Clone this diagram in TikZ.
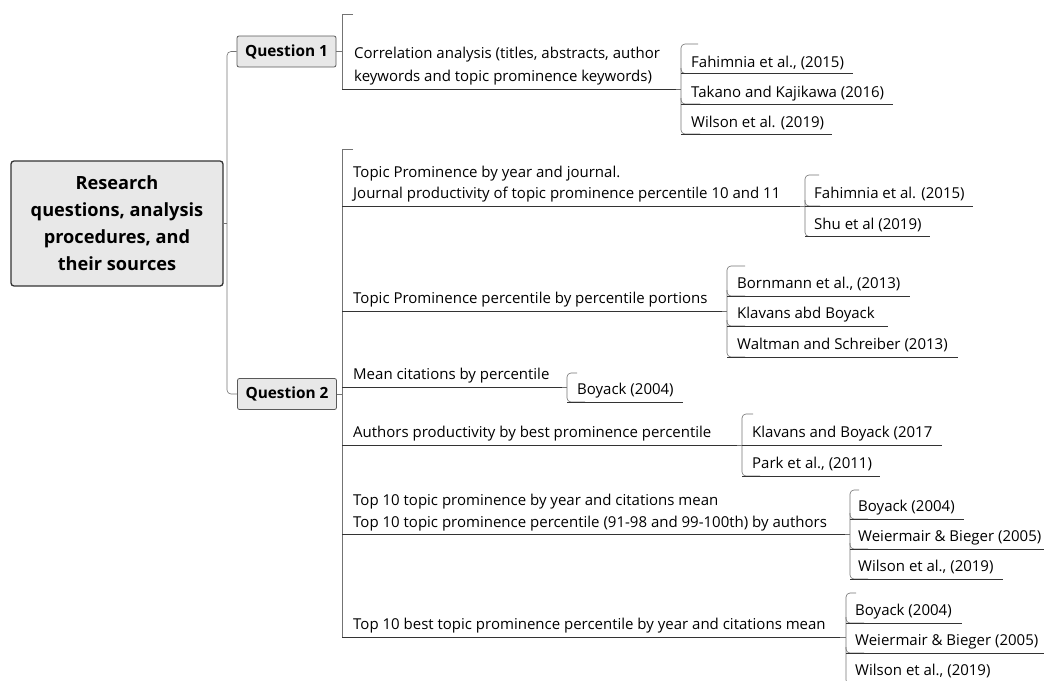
\documentclass[tikz,border=0pt]{standalone}
\usepackage{fontspec}
\setmainfont{Open Sans}
\begin{document}
\begin{tikzpicture}[x=1pt,y=-1pt,
  txt/.style={anchor=base west, inner sep=0pt, font=\fontsize{15}{17}\selectfont, text=black},
  ul/.style={draw=black!80, line width=1pt},
  br/.style={draw=black!55, line width=0.6pt, rounded corners=4pt},
  sq/.style={draw=black!55, line width=0.6pt},
  qbox/.style={draw=black!65, fill=black!9, rounded corners=2pt, line width=0.8pt,
    font=\bfseries\fontsize{15.4}{17}\selectfont, minimum width=99pt, minimum height=31pt, inner sep=0pt},
  rootbox/.style={draw=black!80, fill=black!9, rounded corners=3pt, line width=1.3pt,
    font=\bfseries\fontsize{18.2}{27}\selectfont, align=center, minimum width=212pt, minimum height=125pt, inner sep=0pt}]
\useasboundingbox (0,0) rectangle (1044,680);

% root and questions
\node[rootbox] (root) at (117,223.5) {Research\\questions, analysis\\procedures, and\\their sources};
\node[qbox] (q1) at (286.5,51.5) {Question 1};
\node[qbox] (q2) at (287,394) {Question 2};
\coordinate (rj) at (227,223.5);
\draw[sq] (root.east) -- (rj);
\draw[br] (q1.west) -- (227,51.5) -- (227,394) -- (q2.west);

% Question 1 branch
\draw[sq] (q1.east) -- (342,51.5);
\draw[sq] (353,14) -- (342,14) -- (342,89);
\draw[ul] (342,89) -- (676,89);
\node[txt] (c1a) at (354,58) {Correlation analysis (titles, abstracts, author};
\node[txt] (c1b) at (354,81) {keywords and topic prominence keywords)};

% sources of Q1
\draw[br] (698,44) -- (681,44) -- (681,134) -- (700,134);
\draw[br] (681,68) |- (700,73.5);
\draw[br] (681,98) |- (700,104);
\draw[sq] (676,89) -- (681,89);
\draw[ul] (681,73.5) -- (853,73.5);
\draw[ul] (681,104) -- (893,104);
\draw[ul] (681,134) -- (832,134);
\node[txt] (s11) at (691,67) {Fahimnia et al., (2015)};
\node[txt] (s12) at (691,97) {Takano and Kajikawa (2016)};
\node[txt] (s13) at (691,127) {Wilson et al. (2019)};

% Question 2 branch
\draw[sq] (q2.east) -- (342,394);
\draw[sq] (353,149) -- (342,149) -- (342,637);

% child 1
\node[txt] (a1a) at (353,177) {Topic Prominence by year and journal.};
\node[txt] (a1b) at (353,198) {Journal productivity of topic prominence percentile 10 and 11};
\draw[ul] (342,206) -- (800,206);
\draw[br] (819,175) -- (805,175) -- (805,236.5) -- (820,236.5);
\draw[br] (805,200) |- (820,206);
\draw[sq] (800,206) -- (805,206);
\draw[ul] (805,206) -- (973,206);
\draw[ul] (805,236.5) -- (930,236.5);
\node[txt] (b11) at (814,198.5) {Fahimnia et al. (2015)};
\node[txt] (b12) at (814,229) {Shu et al (2019)};

% child 2
\node[txt] (a2) at (353,303.5) {Topic Prominence percentile by percentile portions};
\draw[ul] (342,311) -- (722,311);
\draw[br] (745,266) -- (727,266) -- (727,357) -- (745,357);
\draw[br] (727,290) |- (745,296);
\draw[br] (727,320) |- (745,326);
\draw[sq] (722,311) -- (727,311);
\draw[ul] (727,296) -- (910,296);
\draw[ul] (727,326) -- (888,326);
\draw[ul] (727,357) -- (958,357);
\node[txt] (b21) at (737,288.5) {Bornmann et al., (2013)};
\node[txt] (b22) at (737,318.5) {Klavans abd Boyack};
\node[txt] (b23) at (737,349.5) {Waltman and Schreiber (2013)};

% child 3
\node[txt] (a3) at (353,379.5) {Mean citations by percentile};
\draw[ul] (342,387) -- (562,387);
\draw[br] (577,373) -- (567,373) -- (567,402) -- (585,402);
\draw[sq] (562,387) -- (567,387);
\draw[ul] (567,402) -- (683,402);
\node[txt] (b31) at (577,394.5) {Boyack (2004)};

% child 4
\node[txt] (a4) at (353,437.5) {Authors productivity by best prominence percentile};
\draw[ul] (342,445) -- (737,445);
\draw[br] (753,414) -- (742,414) -- (742,476) -- (760,476);
\draw[sq] (737,445) -- (742,445);
\draw[ul] (742,445) -- (942,445);
\draw[ul] (742,476) -- (880,476);
\node[txt] (b41) at (752,437.5) {Klavans and Boyack (2017};
\node[txt] (b42) at (752,468.5) {Park et al., (2011)};

% child 5
\node[txt] (a5a) at (353,505) {Top 10 topic prominence by year and citations mean};
\node[txt] (a5b) at (353,527) {Top 10 topic prominence percentile (91-98 and 99-100th) by authors};
\draw[ul] (342,534) -- (845,534);
\draw[br] (859,490) -- (850,490) -- (850,579) -- (868,579);
\draw[br] (850,513) |- (868,519);
\draw[br] (850,543) |- (868,549);
\draw[sq] (845,534) -- (850,534);
\draw[ul] (850,519) -- (964,519);
\draw[ul] (850,549) -- (1044,549);
\draw[ul] (850,579) -- (1003,579);
\node[txt] (b51) at (858,511.5) {Boyack (2004)};
\node[txt] (b52) at (858,541.5) {Weiermair \& Bieger (2005)};
\node[txt] (b53) at (858,571.5) {Wilson et al., (2019)};

% child 6
\node[txt] (a6) at (353,629.5) {Top 10 best topic prominence percentile by year and citations mean};
\draw[ul] (342,637) -- (840,637);
\draw[br] (856,593) -- (846,593) -- (846,684) -- (864,684);
\draw[br] (846,617) |- (864,623);
\draw[br] (846,647) |- (864,653);
\draw[sq] (840,637) -- (846,637);
\draw[ul] (846,623) -- (962,623);
\draw[ul] (846,653) -- (1044,653);
\node[txt] (b61) at (855,615.5) {Boyack (2004)};
\node[txt] (b62) at (855,645.5) {Weiermair \& Bieger (2005)};
\node[txt] (b63) at (855,675.5) {Wilson et al., (2019)};
\end{tikzpicture}
\end{document}
